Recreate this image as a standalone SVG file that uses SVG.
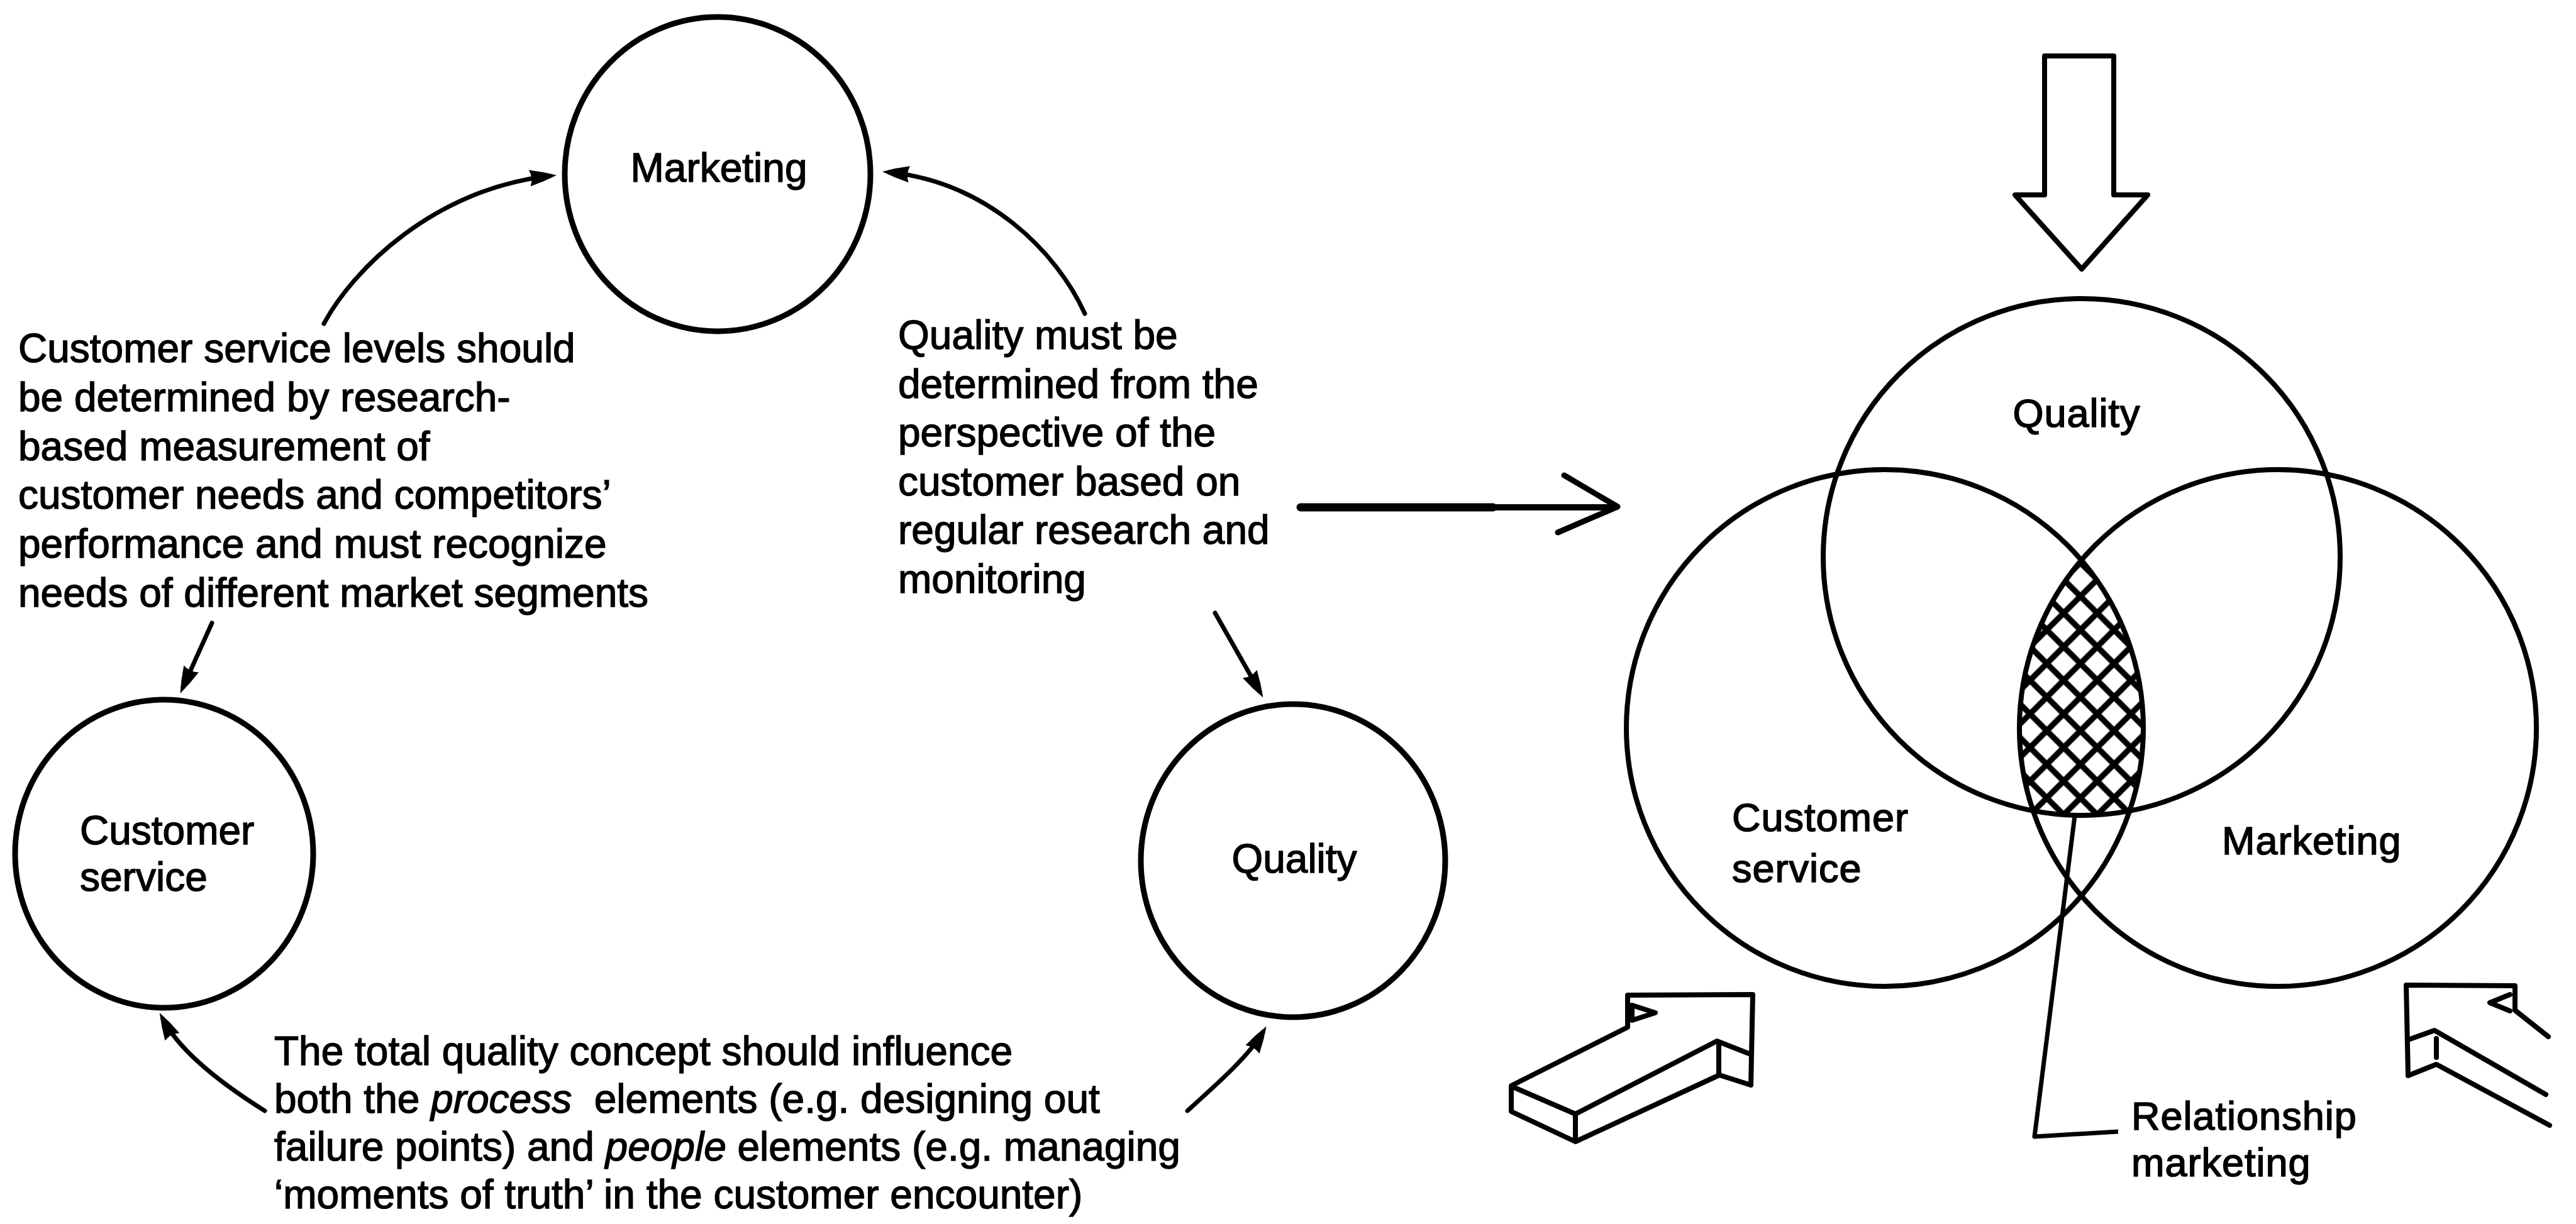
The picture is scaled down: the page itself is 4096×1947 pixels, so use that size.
<svg xmlns="http://www.w3.org/2000/svg" width="4096" height="1947" viewBox="0 0 4096 1947">
  <style>
    .txt { font-family: "Liberation Sans", Arial, sans-serif; font-size: 64px; fill: #000; stroke: #000; stroke-width: 1.4; white-space: pre; }
    .vtxt { font-family: "Liberation Sans", Arial, sans-serif; font-size: 63px; fill: #000; stroke: #000; stroke-width: 1.6; letter-spacing: 1px; }
    .node { fill: none; stroke: #000; stroke-width: 9; }
    .venn { fill: none; stroke: #000; stroke-width: 8; }
    .conn { fill: none; stroke: #000; stroke-width: 7; stroke-linecap: round; }
    .block { fill: #fff; stroke: #000; stroke-width: 8; stroke-linejoin: round; stroke-linecap: round; }
    .edge { fill: none; stroke: #000; stroke-width: 8; stroke-linejoin: round; stroke-linecap: round; }
  </style>
  <defs>
    <marker id="head" markerUnits="userSpaceOnUse" markerWidth="60" markerHeight="40" refX="32" refY="20" orient="auto">
      <path d="M0,7 Q22,12 43,20 Q22,28 0,33 Q6,20 0,7 Z" fill="#000"/>
    </marker>
    <!-- diamond cross-hatch: a square grid turned through 45 degrees -->
    <pattern id="hatch" patternUnits="userSpaceOnUse" width="37.8" height="37.8" patternTransform="translate(3308 1002) rotate(45)">
      <rect x="0" y="0" width="37.8" height="37.8" fill="#000"/>
      <rect x="4.6" y="4.6" width="28.6" height="28.6" fill="#fff"/>
    </pattern>
  </defs>

  <rect x="0" y="0" width="4096" height="1947" fill="#fff"/>

  <!-- left-hand cycle -->
  <g id="node-marketing">
    <ellipse class="node" cx="1141" cy="277" rx="243" ry="250"/>
    <text class="txt" x="1143" y="289" text-anchor="middle">Marketing</text>
  </g>
  <g id="node-customer-service">
    <ellipse class="node" cx="261" cy="1358" rx="237" ry="245"/>
    <text class="txt" x="127" y="1343">Customer</text>
    <text class="txt" x="127" y="1417">service</text>
  </g>
  <g id="node-quality">
    <ellipse class="node" cx="2056" cy="1369" rx="242" ry="249"/>
    <text class="txt" x="2058" y="1388" text-anchor="middle">Quality</text>
  </g>

  <g id="note-customer-service">
    <text class="txt" x="29" y="576">Customer service levels should</text>
    <text class="txt" x="29" y="654">be determined by research-</text>
    <text class="txt" x="29" y="732">based measurement of</text>
    <text class="txt" x="29" y="809">customer needs and competitors’</text>
    <text class="txt" x="29" y="887">performance and must recognize</text>
    <text class="txt" x="29" y="965">needs of different market segments</text>
  </g>
  <g id="note-quality">
    <text class="txt" x="1428" y="555">Quality must be</text>
    <text class="txt" x="1428" y="633">determined from the</text>
    <text class="txt" x="1428" y="710">perspective of the</text>
    <text class="txt" x="1428" y="788">customer based on</text>
    <text class="txt" x="1428" y="865">regular research and</text>
    <text class="txt" x="1428" y="943">monitoring</text>
  </g>
  <g id="note-total-quality">
    <text class="txt" x="436" y="1694">The total quality concept should influence</text>
    <text class="txt" x="436" y="1770">both the <tspan font-style="italic">process</tspan>  elements (e.g. designing out</text>
    <text class="txt" x="436" y="1846">failure points) and <tspan font-style="italic">people</tspan> elements (e.g. managing</text>
    <text class="txt" x="436" y="1922">‘moments of truth’ in the customer encounter)</text>
  </g>

  <g id="connectors">
    <path class="conn" d="M515,515 C560,430 690,300 874,280" marker-end="url(#head)"/>
    <path class="conn" d="M1725,499 C1680,400 1570,290 1414,274" marker-end="url(#head)"/>
    <path class="conn" d="M337,991 L291,1093" marker-end="url(#head)"/>
    <path class="conn" d="M1932,975 L2003,1100" marker-end="url(#head)"/>
    <path class="conn" d="M421,1767 C370,1735 290,1680 259,1621" marker-end="url(#head)"/>
    <path class="conn" d="M1888,1767 C1940,1720 1985,1680 2008,1642" marker-end="url(#head)"/>
    <!-- open arrow pointing to the overlap model -->
    <path d="M2068,807 L2374,807" fill="none" stroke="#000" stroke-width="13" stroke-linecap="round"/>
    <path d="M2374,807 L2566,807" fill="none" stroke="#000" stroke-width="10" stroke-linecap="round"/>
    <path d="M2487,756 L2572,806 L2477,847" fill="none" stroke="#000" stroke-width="9" stroke-linecap="round" stroke-linejoin="round"/>
    <!-- leader to the relationship marketing label -->
    <path d="M3310,1210 L3235,1808 L3368,1800" fill="none" stroke="#000" stroke-width="7" stroke-linejoin="round"/>
  </g>

  <!-- overlapping circles -->
  <g id="venn-overlap">
    <path d="M3309.5,891 A411,411 0 0 1 3386.3,1289.9 A411,411 0 0 1 3232.6,1289.7 A411,411 0 0 1 3309.5,891 Z" fill="url(#hatch)"/>
  </g>
  <g id="venn-quality">
    <circle class="venn" cx="3310" cy="886" r="411"/>
    <text class="vtxt" x="3302" y="679" text-anchor="middle">Quality</text>
  </g>
  <g id="venn-customer-service">
    <circle class="venn" cx="2997" cy="1158" r="411"/>
    <text class="vtxt" x="2754" y="1322">Customer</text>
    <text class="vtxt" x="2754" y="1403">service</text>
  </g>
  <g id="venn-marketing">
    <circle class="venn" cx="3622" cy="1158" r="411"/>
    <text class="vtxt" x="3533" y="1359">Marketing</text>
  </g>
  <g id="label-relationship">
    <text class="vtxt" x="3389" y="1797">Relationship</text>
    <text class="vtxt" x="3389" y="1871">marketing</text>
  </g>

  <!-- hollow input arrows -->
  <g id="arrow-top">
    <path class="block" d="M3251,89 L3361,89 L3361,310 L3415,310 L3310,428 L3204,310 L3251,310 Z"/>
  </g>
  <g id="arrow-bottom-left">
    <path class="block" d="M2588,1583 L2787,1582 L2784,1726 L2734,1710 L2505,1816 L2403,1768 L2403,1727 L2588,1634 Z"/>
    <path class="edge" d="M2408,1730 L2505,1772 L2505,1814"/>
    <path class="edge" d="M2505,1772 L2730,1656 L2781,1676"/>
    <path class="edge" d="M2733,1660 L2733,1708"/>
    <path class="edge" d="M2595,1599 L2632,1611 L2595,1623 Z" fill="#fff"/>
  </g>
  <g id="arrow-bottom-right">
    <path class="edge" d="M4052,1649 L3999,1607 L3999,1568 L3826,1567 L3829,1711 L3874,1693 L4054,1790"/>
    <path class="edge" d="M3829,1654 L3871,1639 L4048,1741"/>
    <path class="edge" d="M3874,1652 L3874,1682"/>
    <path class="edge" d="M3991,1582 L3959,1595 L3991,1608"/>
  </g>
</svg>
